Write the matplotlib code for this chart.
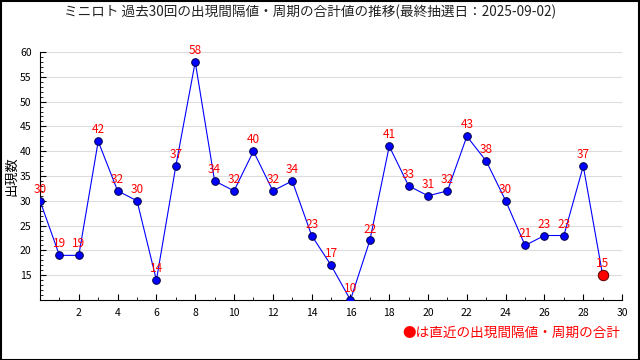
import matplotlib
matplotlib.use("Agg")
import matplotlib.pyplot as plt
from matplotlib.patches import Rectangle
from matplotlib.ticker import MultipleLocator

plt.rcParams['font.family'] = ['Noto Sans CJK JP', 'DejaVu Sans']

# データ
draws = list(range(30))
values = [30, 19, 19, 42, 32, 30, 14, 37, 58, 34, 32, 40, 32, 34, 23,
          17, 10, 22, 41, 33, 31, 32, 43, 38, 30, 21, 23, 23, 37, 15]
title = "ミニロト 過去30回の出現間隔値・周期の合計値の推移(最終抽選日：2025-09-02)"
ylabel = "出現数"
note = "●は直近の出現間隔値・周期の合計"

fig = plt.figure(figsize=(6.4, 3.6), dpi=100)
ax = fig.add_axes([0.0625, 0.1667, 0.9095, 0.6889])

ax.plot(draws, values, color="blue", lw=0.8, marker="o", ms=5.5,
        mfc="blue", mec="#000044", mew=0.7, zorder=3)
ax.plot(draws[-1], values[-1], "o", ms=7.5, mfc="red", mec="#550000", mew=0.7, zorder=4)
for x, v in zip(draws, values):
    ax.text(x, v + 1.0, str(v), color="red", fontsize=8.5, ha="center", va="bottom", zorder=5)

ax.set_xlim(0, 30)
ax.set_ylim(10, 60)
ax.xaxis.set_minor_locator(MultipleLocator(1))
ax.yaxis.set_minor_locator(MultipleLocator(1))
ax.set_xticks(range(2, 31, 2))
ax.set_yticks(range(15, 61, 5))
ax.grid(axis="y", color="#dddddd", lw=0.8)
ax.set_axisbelow(True)
for s in ["top", "right"]:
    ax.spines[s].set_visible(False)
ax.tick_params(axis="both", which="major", labelsize=7.5, length=4, direction="in", pad=6)
ax.tick_params(axis="both", which="minor", length=2, direction="in")
ax.set_ylabel(ylabel, fontsize=9.5, labelpad=1)

fig.text(0.485, 0.968, title, ha="center", va="center", fontsize=9.8, color="#222222")
fig.text(0.97, 0.075, note, ha="right", va="center", fontsize=9.8, color="red")
fig.patches.append(Rectangle((0.001, 0.001), 0.997, 0.996, transform=fig.transFigure,
                             fill=False, ec="black", lw=1.5))

fig.savefig("out.png", dpi=100)
